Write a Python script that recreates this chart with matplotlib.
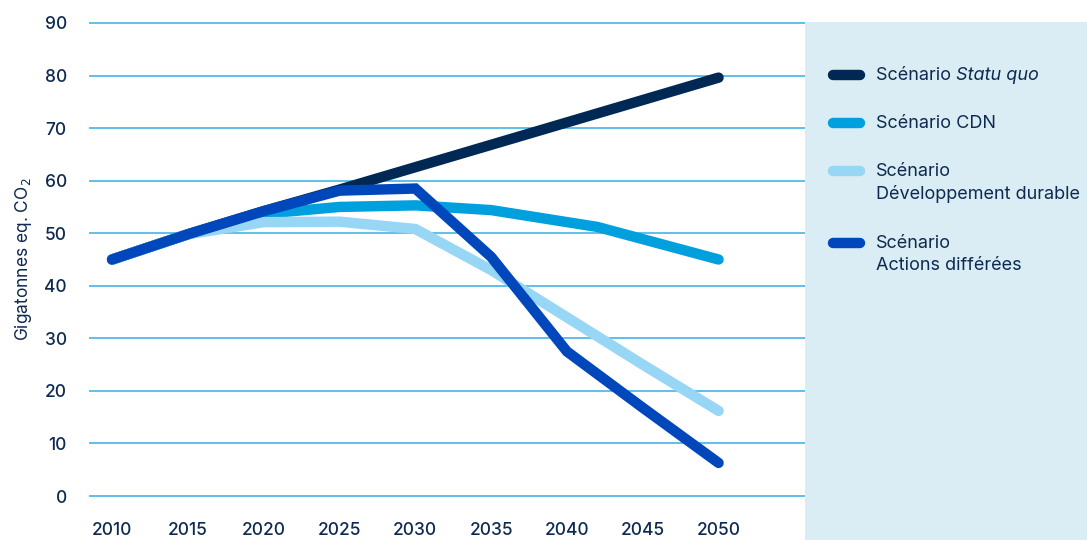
#!/usr/bin/env python3
"""Émissions mondiales de GES par scénario, 2010-2050 (Gt eq. CO2)."""
import matplotlib
matplotlib.use("Agg")
import matplotlib.pyplot as plt
from matplotlib.lines import Line2D
from matplotlib.patches import Rectangle

plt.rcParams["font.family"] = ["Inter", "DejaVu Sans"]

TEXT = "#0e2a50"
GRID = "#45b3e6"
PANEL = "#daedf4"

# values
statu_quo_years = [2010, 2015, 2020, 2025, 2050]
statu_quo = [45.0, 49.8, 54.2, 58.3, 79.6]

cdn_years = [2010, 2015, 2020, 2025, 2030, 2035, 2042, 2050]
cdn = [45.0, 49.8, 53.7, 55.0, 55.3, 54.4, 51.2, 45.0]

dd_years = [2010, 2015, 2020, 2025, 2030, 2035, 2040, 2045, 2050]
dev_durable = [45.0, 49.8, 52.1, 52.2, 50.8, 43.0, 34.0, 25.0, 16.2]

ad_years = [2010, 2015, 2020, 2025, 2030, 2035, 2040, 2045, 2050]
actions_differees = [45.0, 49.8, 54.2, 58.1, 58.5, 45.5, 27.5, 16.8, 6.3]

x_ticks = [2010, 2015, 2020, 2025, 2030, 2035, 2040, 2045, 2050]
y_ticks = [0, 10, 20, 30, 40, 50, 60, 70, 80, 90]

series = [
    (statu_quo_years, statu_quo, "#002855", ["Scénario ", "Statu quo"]),
    (cdn_years, cdn, "#00a0df", ["Scénario CDN"]),
    (dd_years, dev_durable, "#97d6f5", ["Scénario", "Développement durable"]),
    (ad_years, actions_differees, "#0047bb", ["Scénario", "Actions différées"]),
]
draw_order = [0, 2, 1, 3]


def main():
    W, H = 1087, 540
    fig = plt.figure(figsize=(W / 100, H / 100), dpi=100)

    # right-hand legend panel
    fig.add_artist(Rectangle((805 / W, 0), 1 - 805 / W, (H - 22) / H,
                             transform=fig.transFigure, facecolor=PANEL,
                             edgecolor="none", zorder=0))

    top_px, bot_px = 17.7, 501.3
    ax = fig.add_axes([89 / W, (H - bot_px) / H, (805 - 89) / W, (bot_px - top_px) / H])
    ax.set_xlim(2008.48, 2055.7)
    ax.set_ylim(-1, 91)
    ax.set_facecolor("none")
    for s in ax.spines.values():
        s.set_visible(False)
    ax.set_yticks(y_ticks)
    ax.set_xticks(x_ticks)
    ax.tick_params(length=0, labelsize=12.5, labelcolor=TEXT)
    ax.tick_params(axis="y", pad=16)
    ax.tick_params(axis="x", pad=15)
    for lab in ax.get_xticklabels() + ax.get_yticklabels():
        lab.set_fontweight("medium")
    ax.grid(axis="y", color=GRID, lw=1.2)
    ax.set_axisbelow(True)
    ax.set_ylabel("Gigatonnes eq. CO$_2$", fontsize=12.5, color=TEXT, labelpad=7)

    for i in draw_order:
        xs, ys, color, _ = series[i]
        ax.plot(xs, ys, color=color, lw=7.5, solid_capstyle="round",
                solid_joinstyle="miter", zorder=3 + i)

    # legend, drawn by hand so the swatch lines up with the first text line
    rows_px = [75, 123, 171, 243]
    line_gap = 23
    fig.canvas.draw()
    renderer = fig.canvas.get_renderer()
    for (xs, ys, color, label), y_px in zip(series, rows_px):
        yf = 1 - y_px / H
        fig.add_artist(Line2D([833 / W, 860 / W], [yf, yf], transform=fig.transFigure,
                              color=color, lw=7.5, solid_capstyle="round"))
        if label[0].endswith(" "):
            t = fig.text(876 / W, yf, label[0], fontsize=13, color=TEXT, va="center")
            bb = t.get_window_extent(renderer)
            fig.text(bb.x1 / W, yf, label[1], fontsize=13, color=TEXT,
                     va="center", style="italic")
        else:
            for k, line in enumerate(label):
                fig.text(876 / W, 1 - (y_px + k * line_gap) / H, line, fontsize=13,
                         color=TEXT, va="center")

    fig.savefig("out.png", dpi=100, facecolor="white")
    plt.close(fig)


if __name__ == "__main__":
    main()
